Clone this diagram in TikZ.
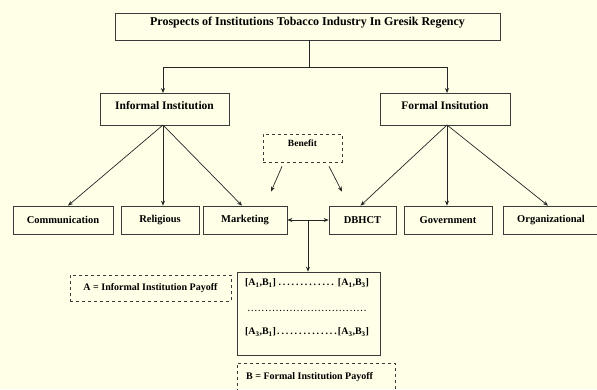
\documentclass[tikz,border=0pt]{standalone}
\usepackage{fontspec}
\setmainfont{Liberation Serif}
\usetikzlibrary{arrows.meta}
\definecolor{paper}{HTML}{FFFEE6}
\definecolor{edge}{HTML}{3A3A3A}
\begin{document}
\begin{tikzpicture}[x=1pt,y=-1pt,
    box/.style={draw=edge,line width=0.7pt,inner sep=0pt,font=\fontsize{10.5}{12}\selectfont\bfseries},
    dbox/.style={box,dashed},
    arr/.style={-{Stealth[length=5pt,width=4pt]},line width=0.7pt,draw=black!85},
    plain/.style={line width=0.7pt,draw=black!85},
    small/.style={font=\fontsize{8}{9}\selectfont\bfseries,inner sep=0pt}]
  \fill[paper] (0,0) rectangle (597,389);
  \useasboundingbox (0,0) rectangle (597,389);
  % top level
  \node[box,minimum width=385pt,minimum height=27pt] (title) at (307.5,26.5) {};
  \node[small,font=\fontsize{12}{14}\selectfont\bfseries] (titletext) at (307.5,23)
    {Prospects of Institutions Tobacco Industry In Gresik Regency};
  \coordinate (split) at (309,67);
  \draw[plain] (title.south -| split) -- (split);
  \draw[arr] (split) -| (163,93);
  \draw[arr] (split) -| (447,93);
  % institutions
  \node[box,minimum width=129pt,minimum height=32pt,text depth=7pt] (informal) at (164.5,109)
    {\fontsize{11.5}{13}\selectfont Informal Institution};
  \node[box,minimum width=130pt,minimum height=32pt,text depth=7pt] (formal) at (445,109)
    {\fontsize{11.5}{13}\selectfont Formal Insitution};
  \node[dbox,minimum width=79pt,minimum height=28pt,text depth=9pt] (payoff) at (302.5,148)
    {\fontsize{9.5}{11}\selectfont Benefit};
  % factors
  \node[box,minimum width=100pt,minimum height=28pt] (comm) at (63,220) {Communication};
  \node[box,minimum width=78pt,minimum height=28pt] (relig) at (160,220) {Religious};
  \node[box,minimum width=84pt,minimum height=28pt] (mark) at (245,220) {Marketing};
  \node[box,minimum width=67pt,minimum height=28pt] (dbhct) at (362.5,220) {DBHCT};
  \node[box,minimum width=88pt,minimum height=28pt] (gov) at (448,220) {Government};
  \node[box,minimum width=96pt,minimum height=28pt] (org) at (551,220) {Organizational};
  \draw[arr] (163,125) -- ([xshift=5pt]comm.north);
  \draw[arr] (163,125) -- ([xshift=3pt]relig.north);
  \draw[arr] (163,125) -- ([xshift=-3pt]mark.north);
  \draw[arr] (447,125) -- ([xshift=-2pt]dbhct.north);
  \draw[arr] (447,125) -- ([xshift=-1pt]gov.north);
  \draw[arr] (447,125) -- ([xshift=-3pt]org.north);
  \draw[arr] ([xshift=-20.5pt,yshift=-4pt]payoff.south) -- ([xshift=26pt,yshift=14pt]mark.north);
  \draw[arr] ([xshift=26.5pt,yshift=-4pt]payoff.south) -- ([xshift=-20.5pt,yshift=14pt]dbhct.north);
  % payoff matrix
  \node[box,minimum width=143pt,minimum height=83pt] (matrix) at (308.5,313.5) {};
  \coordinate (junc) at (308,220);
  \draw[arr,{Stealth[length=5pt,width=4pt]}-{Stealth[length=5pt,width=4pt]}] (mark.east) -- (dbhct.west);
  \draw[arr] (junc) -- (junc |- matrix.north);
  \node[small,font=\fontsize{10}{12}\selectfont\bfseries] (row1) at (307,283)
    {\makebox[124pt]{[A\textsubscript{1},B\textsubscript{1}]\dotfill\,[A\textsubscript{1},B\textsubscript{3}]}};
  \node[small] (row2) at (307,311) {\makebox[122pt]{\dotfill}};
  \node[small,font=\fontsize{10}{12}\selectfont\bfseries] (row3) at (307,332)
    {\makebox[124pt]{[A\textsubscript{3},B\textsubscript{1}]\dotfill[A\textsubscript{3},B\textsubscript{3}]}};
  \node[dbox,minimum width=161pt,minimum height=26pt] (akey) at (150.5,288)
    {\fontsize{10}{12}\selectfont A = Informal Institution Payoff};
  \node[dbox,minimum width=158pt,minimum height=30pt] (bkey) at (316,378) {};
  \node[small,font=\fontsize{10}{12}\selectfont\bfseries,anchor=west] (btext) at (246,377)
    {B = Formal Institution Payoff};
\end{tikzpicture}
\end{document}
